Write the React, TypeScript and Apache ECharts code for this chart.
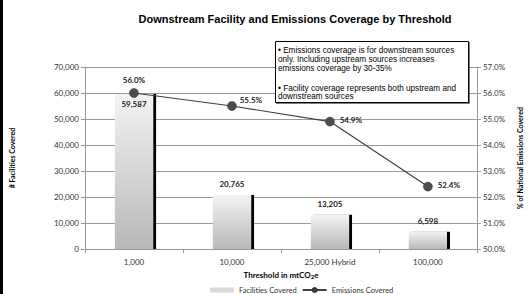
import React, { useEffect, useRef } from "react";
import * as echarts from "echarts";

const categories = ["1,000", "10,000", "25,000 Hybrid", "100,000"];
const facilities = [59587, 20765, 13205, 6598];
const emissions = [56.0, 55.5, 54.9, 52.4];
const noteA = [
  "• Emissions coverage is for downstream sources",
  "only. Including upstream sources increases",
  "emissions coverage by 30-35%",
];
const noteB = [
  "• Facility coverage represents both upstream and",
  "downstream sources",
];

const LABEL_FONT = "Lato, 'Open Sans', sans-serif";
const NOTE_FONT = "'Liberation Sans', Arial";

export default function App() {
  const ref = useRef<HTMLDivElement>(null);
  useEffect(() => {
    if (!ref.current) return;
    const chart = echarts.init(ref.current, null, { renderer: "svg" });
    chart.setOption({
      animation: false,
      backgroundColor: "#fff",
      title: {
        text: "Downstream Facility and Emissions Coverage by Threshold",
        left: 290,
        textAlign: "center",
        top: 8,
        textStyle: { fontFamily: NOTE_FONT, fontSize: 11, fontWeight: "bold", color: "#000" },
      },
      grid: { left: 82, right: 49, top: 67, bottom: 45 },
      legend: {
        top: 281,
        left: 205,
        itemGap: 5,
        textStyle: { fontFamily: LABEL_FONT, fontSize: 7.5, color: "#333" },
        data: [
          { name: "Facilities Covered", icon: "rect", itemStyle: { color: "#d9d9d9" } },
          { name: "Emissions Covered" },
        ],
        itemWidth: 24,
        itemHeight: 5,
      },
      xAxis: {
        type: "category",
        data: categories,
        name: "Threshold in mtCO{sub|2}e",
        nameLocation: "middle",
        nameGap: 18,
        nameTextStyle: {
          fontFamily: LABEL_FONT,
          fontSize: 8,
          fontWeight: "bold",
          color: "#000",
          rich: { sub: { fontSize: 6, fontWeight: "bold", verticalAlign: "bottom", padding: [4, 0, 0, 0], fontFamily: LABEL_FONT } },
        },
        axisLine: { lineStyle: { color: "#999" } },
        axisTick: { show: true, alignWithLabel: false, length: 4, lineStyle: { color: "#999" } },
        axisLabel: { fontFamily: LABEL_FONT, fontSize: 8, color: "#333", margin: 9 },
      },
      yAxis: [
        {
          type: "value",
          min: 0,
          max: 70000,
          interval: 10000,
          name: "# Facilities Covered",
          nameLocation: "middle",
          nameGap: 70,
          nameTextStyle: { fontFamily: LABEL_FONT, fontSize: 7, fontWeight: "bold", color: "#000" },
          axisLine: { show: true, lineStyle: { color: "#999" } },
          axisTick: { show: true, length: 4, lineStyle: { color: "#999" } },
          axisLabel: {
            fontFamily: LABEL_FONT,
            fontSize: 8,
            color: "#333",
            margin: 6,
            formatter: (v: number) => v.toLocaleString("en-US"),
          },
          splitLine: { lineStyle: { color: "#999" } },
        },
        {
          type: "value",
          min: 50,
          max: 57,
          interval: 1,
          name: "% of National Emissions Covered",
          nameLocation: "middle",
          nameGap: 41,
          nameRotate: 90,
          nameTextStyle: { fontFamily: LABEL_FONT, fontSize: 7, fontWeight: "bold", color: "#000", verticalAlign: "bottom" },
          axisLine: { show: true, lineStyle: { color: "#999" } },
          axisTick: { show: true, length: 4, lineStyle: { color: "#999" } },
          axisLabel: {
            fontFamily: LABEL_FONT,
            fontSize: 8,
            color: "#333",
            margin: 6,
            formatter: (v: number) => v.toFixed(1) + "%",
          },
          splitLine: { show: false },
        },
      ],
      series: [
        {
          name: "Facilities Covered",
          type: "bar",
          yAxisIndex: 0,
          barWidth: "39%",
          data: facilities.map((v, i) => ({
            value: v,
            label:
              i === 0
                ? { show: true, position: "insideTop", distance: 6 }
                : { show: true, position: "top", distance: 7 },
          })),
          itemStyle: {
            color: new echarts.graphic.LinearGradient(0, 0, 0, 1, [
              { offset: 0, color: "#f3f3f3" },
              { offset: 1, color: "#b8b8b8" },
            ]),
            shadowColor: "#000",
            shadowOffsetX: 3,
            shadowOffsetY: 0,
            shadowBlur: 0,
          },
          label: {
            fontFamily: LABEL_FONT,
            fontSize: 8,
            fontWeight: "bold",
            color: "#222",
            formatter: (p: any) => Number(p.value).toLocaleString("en-US"),
          },
        },
        {
          name: "Emissions Covered",
          type: "line",
          yAxisIndex: 1,
          data: emissions.map((v, i) => ({
            value: v,
            label:
              i === 0
                ? { position: "top", distance: 4 }
                : i === 1
                ? { position: "right", offset: [-2, -6] }
                : { position: "right", offset: [0, -2] },
          })),
          symbol: "circle",
          symbolSize: 9,
          lineStyle: { color: "#404040", width: 1.2 },
          itemStyle: { color: "#4d4d4d", borderColor: "#333", borderWidth: 0.5 },
          label: {
            show: true,
            fontFamily: LABEL_FONT,
            fontSize: 8,
            fontWeight: "bold",
            color: "#222",
            formatter: (p: any) => Number(p.value).toFixed(1) + "%",
          },
          z: 5,
        },
      ],
      graphic: [
        { type: "rect", left: 0, top: 0, shape: { x: 0, y: 0, width: 3, height: 294 }, style: { fill: "#000" } },
        {
          type: "rect",
          shape: { x: 275.5, y: 41.5, width: 193, height: 61 },
          style: { fill: "#fff", stroke: "#000", lineWidth: 1, shadowColor: "rgba(0,0,0,0.5)", shadowOffsetX: 1, shadowOffsetY: 1, shadowBlur: 0 },
          z: 10,
        },
        {
          type: "text",
          x: 278,
          y: 46.5,
          style: { text: noteA.join("\n"), fontFamily: NOTE_FONT, fontSize: 8.2, lineHeight: 8.6, fill: "#000" },
          z: 11,
        },
        {
          type: "text",
          x: 278,
          y: 84,
          style: { text: noteB.join("\n"), fontFamily: NOTE_FONT, fontSize: 8.2, lineHeight: 8.6, fill: "#000" },
          z: 11,
        },
      ],
    });
    return () => chart.dispose();
  }, []);
  return <div ref={ref} style={{ width: 531, height: 294, position: "absolute", left: 0, top: 0 }} />;
}
